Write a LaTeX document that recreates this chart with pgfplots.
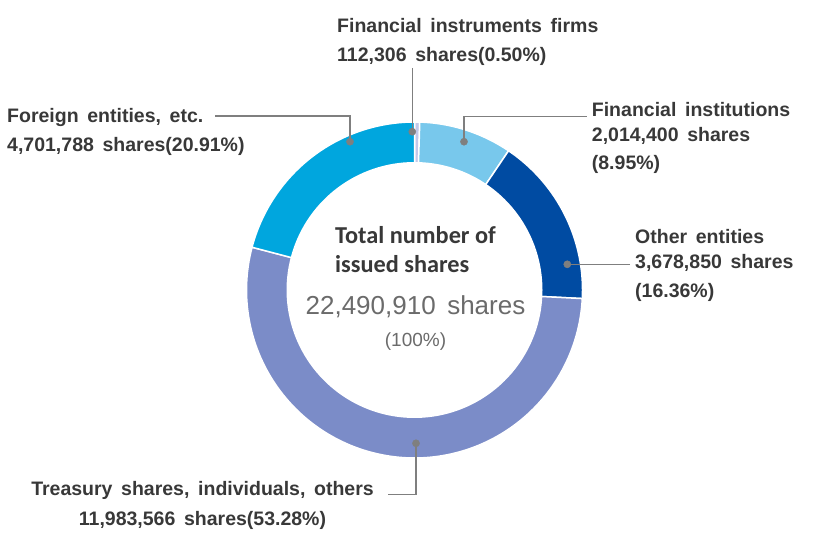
\documentclass[border=0pt]{standalone}
\usepackage{fontspec}
\setmainfont[WordSpace=1.6]{Liberation Sans}
\newfontfamily\calibri{Carlito}
\usepackage{pgfplots}
\usepackage{pgfplotstable}
\pgfplotsset{compat=1.18}

\definecolor{cFIF}{HTML}{C2C8EA}
\definecolor{cFI}{HTML}{78C8EC}
\definecolor{cOE}{HTML}{004BA2}
\definecolor{cTS}{HTML}{7B8CC8}
\definecolor{cFE}{HTML}{00A6DE}
\definecolor{txt}{HTML}{383838}
\definecolor{lead}{HTML}{7F7F7F}
\definecolor{ctr}{HTML}{6B6B6B}

% shares held by each group (clockwise from the top)
\pgfplotstableread{
group value
FIF 112306
FI 2014400
OE 3678850
TS 11983566
FE 4701788
}\shares

\newcommand\getval[2]{\pgfplotstablegetelem{#1}{value}\of\shares\edef#2{\pgfplotsretval}}
\getval{0}\vA
\getval{1}\vB
\getval{2}\vC
\getval{3}\vD
\getval{4}\vE
\edef\tot{\fpeval{\vA+\vB+\vC+\vD+\vE}}
\edef\aA{90}
\edef\aB{\fpeval{\aA-360*\vA/\tot}}
\edef\aC{\fpeval{\aB-360*\vB/\tot}}
\edef\aD{\fpeval{\aC-360*\vC/\tot}}
\edef\aE{\fpeval{\aD-360*\vD/\tot}}
\edef\aF{\fpeval{\aE-360*\vE/\tot}}

\def\cx{414.5}
\def\cy{258}
\def\R{168}
\def\r{128}

\tikzset{
  lbl/.style={inner sep=0pt, anchor=base west, text=txt,
    font=\fontsize{19.5bp}{23bp}\selectfont\bfseries},
  ttl/.style={inner sep=0pt, anchor=base west, text=txt,
    font=\calibri\bfseries\fontsize{24.3bp}{28bp}\selectfont},
  wedge/.style={draw=white, line width=1.5bp, samples=120, variable=\t},
}

\begin{document}
\begin{tikzpicture}
\path[use as bounding box] (0,0) rectangle (832bp,548bp);
\begin{axis}[
  at={(0,0)}, anchor=south west,
  width=832bp, height=548bp, scale only axis,
  xmin=0, xmax=832, ymin=0, ymax=548,
  hide axis, clip=false,
]
% donut slices
\addplot[wedge, fill=cFIF, domain=\aB:\aA] ({\cx+\R*cos(\t)},{\cy+\R*sin(\t)}) -- (axis cs:\cx,\cy) -- cycle;
\addplot[wedge, fill=cFI, domain=\aC:\aB] ({\cx+\R*cos(\t)},{\cy+\R*sin(\t)}) -- (axis cs:\cx,\cy) -- cycle;
\addplot[wedge, fill=cOE, domain=\aD:\aC] ({\cx+\R*cos(\t)},{\cy+\R*sin(\t)}) -- (axis cs:\cx,\cy) -- cycle;
\addplot[wedge, fill=cTS, domain=\aE:\aD] ({\cx+\R*cos(\t)},{\cy+\R*sin(\t)}) -- (axis cs:\cx,\cy) -- cycle;
\addplot[wedge, fill=cFE, domain=\aF:\aE] ({\cx+\R*cos(\t)},{\cy+\R*sin(\t)}) -- (axis cs:\cx,\cy) -- cycle;
% hole
\addplot[draw=none, fill=white, domain=0:360, samples=160, variable=\t] ({\cx+\r*cos(\t)},{\cy+\r*sin(\t)}) -- cycle;

% leader lines
\addplot[lead, line width=1.3bp, sharp plot] coordinates {(412.3,480) (412.3,416.3)};
\addplot[lead, line width=1.3bp, sharp plot] coordinates {(215,432) (350,432) (350,406.3)};
\addplot[lead, line width=1.3bp, sharp plot] coordinates {(586.7,431.3) (464,431.3) (464,406.3)};
\addplot[lead, line width=1.3bp, sharp plot] coordinates {(630,283.7) (567.3,283.7)};
\addplot[lead, line width=1.3bp, sharp plot] coordinates {(388.3,53.7) (416,53.7) (416,104.7)};
\addplot[only marks, mark=*, mark size=3.6bp, color=lead] coordinates {(412.3,416.3) (350,406.3) (464,406.3) (567.3,283.7) (416,104.7)};

% labels
\node[lbl] at (axis cs:337,515.7) {Financial instruments firms};
\node[lbl] at (axis cs:337,486.3) {112,306 shares(0.50\%)};
\node[lbl] at (axis cs:7,425.7) {Foreign entities, etc.};
\node[lbl] at (axis cs:7,396.3) {4,701,788 shares(20.91\%)};
\node[lbl] at (axis cs:591.7,431.3) {Financial institutions};
\node[lbl] at (axis cs:591.7,406.3) {2,014,400 shares};
\node[lbl] at (axis cs:591.7,378.7) {(8.95\%)};
\node[lbl] at (axis cs:635,304.7) {Other entities};
\node[lbl] at (axis cs:635,279.7) {3,678,850 shares};
\node[lbl] at (axis cs:635,250.7) {(16.36\%)};
\node[lbl, anchor=base] at (axis cs:202.5,52) {Treasury shares, individuals, others};
\node[lbl, anchor=base] at (axis cs:202.5,22) {11,983,566 shares(53.28\%)};

% centre
\node[ttl] at (axis cs:335,304.7) {Total number of};
\node[ttl] at (axis cs:335,275.3) {issued shares};
\node[inner sep=0pt, anchor=base, text=ctr, font=\fontsize{26bp}{30bp}\selectfont] at (axis cs:415.5,233) {22,490,910 shares};
\node[inner sep=0pt, anchor=base, text=ctr, font=\fontsize{19bp}{23bp}\selectfont] at (axis cs:415.5,201.3) {(100\%)};
\end{axis}
\end{tikzpicture}
\end{document}
